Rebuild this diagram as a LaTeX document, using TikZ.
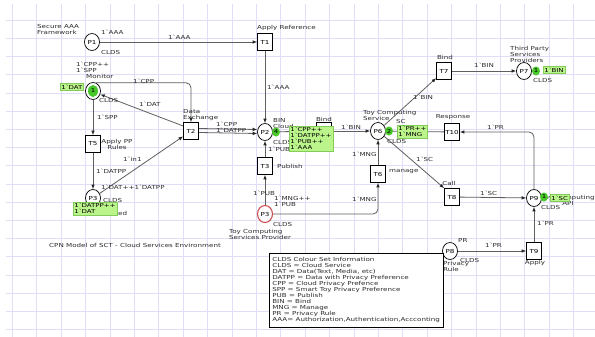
\documentclass[tikz,border=0pt]{standalone}
\usepackage{fontspec}
\newfontfamily\cpn{DejaVu Sans}[FakeStretch=1.3]
\usetikzlibrary{shapes.geometric,arrows.meta}
\definecolor{gridc}{RGB}{222,222,246}
\definecolor{linec}{RGB}{95,95,95}
\definecolor{txtc}{RGB}{45,45,45}
\definecolor{markf}{RGB}{188,244,140}
\definecolor{markb}{RGB}{130,205,90}
\definecolor{tokf}{RGB}{72,200,40}
\definecolor{redc}{RGB}{205,80,80}
\newcommand\bq{\textasciigrave}
\newcommand\lf{\cpn\fontsize{5.5}{6}\selectfont}
\newcommand\mf{\cpn\fontsize{5.4}{6}\selectfont}
\begin{document}
\begin{tikzpicture}[x=1pt,y=-1pt,
  place/.style={ellipse, draw=black, line width=0.7pt, fill=white, minimum width=15pt, minimum height=17pt, inner sep=0pt, font=\lf},
  trans/.style={rectangle, draw=black, line width=0.7pt, fill=white, minimum width=15pt, minimum height=17pt, inner sep=0pt, font=\lf},
  lbl/.style={inner sep=0pt, font=\lf, text=txtc, anchor=west, align=left},
  clbl/.style={inner sep=0pt, font=\lf, text=txtc, align=center},
  mkbox/.style={draw=markb, fill=markf, inner sep=1.2pt, font=\mf, align=left, text=black},
  token/.style={ellipse, fill=tokf, minimum width=8pt, minimum height=9pt, inner sep=0pt, font=\mf},
  arc/.style={draw=linec, line width=0.8pt, -{Latex[length=4.5pt,width=3.6pt,color=black!85]}}]
\useasboundingbox (0,0) rectangle (595,337);
\fill[white] (0,0) rectangle (595,337);
\foreach \i in {0,...,23} \draw[gridc, line width=0.5pt] ({12.2+24.4*\i},4) -- ({12.2+24.4*\i},337);
\foreach \j in {1,...,18} \draw[gridc, line width=0.5pt] (6,{1.8+18.2*\j}) -- (595,{1.8+18.2*\j});

% places
\node[place] (P1) at (92,42) {P1};
\node[place] (P4) at (93,91) {};
\node[place] (P3a) at (93,198) {P3};
\node[place] (P2) at (265,132) {P2};
\node[place, draw=redc, line width=1.1pt] (P3b) at (265,214) {P3};
\node[place] (P6) at (378,131) {P6};
\node[place] (P7) at (524,71) {P7};
\node[place] (P9) at (534,198) {P9};
\node[place] (P8) at (450,251) {P8};
% transitions
\node[trans] (T1) at (265,42) {T1};
\node[trans] (T2) at (191,131) {T2};
\node[trans] (T5) at (93,144) {T5};
\node[trans] (T3) at (265,166) {T3};
\node[trans] (T4) at (324,131) {T4};
\node[trans] (T6) at (378,174) {T6};
\node[trans] (T7) at (444,71) {T7};
\node[trans] (T10) at (452,132) {T10};
\node[trans] (T8) at (452,197) {T8};
\node[trans] (T9) at (534,251) {T9};

% arcs
\draw[arc] (P1) -- (T1);
\draw[arc] (T1) -- (P2);
\draw[arc, rounded corners=5pt] (P4.70) -| (T2.north);
\draw[arc] ([yshift=5pt]T2.west) -- (P4.-25);
\draw[arc] (P4) -- (T5);
\draw[arc] (T5) -- (P3a);
\draw[arc] (P3a) -- (T2);
\draw[arc] ([yshift=2.5pt]T2.east) -- ([yshift=2.5pt]P2.west);
\draw[arc] ([yshift=-1.5pt]T2.east) -- ([yshift=-1.5pt]P2.west);
\draw[arc] (T3) -- (P2);
\draw[arc] (P3b) -- (T3);
\draw[arc, rounded corners=5pt] (P3b.east) -| (T6.south);
\draw[arc] (T6) -- (P6);
\draw[arc] (P2) -- (T4);
\draw[arc] (T4) -- (P6);
\draw[arc] (P6) -- (T7);
\draw[arc] (T7) -- (P7);
\draw[arc] (T10) -- (P6);
\draw[arc, rounded corners=5pt] (P9.north) |- (T10.east);
\draw[arc] (P6) -- (T8.north west);
\draw[arc] (T8) -- (P9);
\draw[arc] (T9) -- (P9);
\draw[arc] (P8) -- (T9);

% labels
\node[lbl] at (37,29.5) {Secure AAA\\Framework};
\node[lbl] at (101,32) {1\bq AAA};
\node[lbl] at (101,52) {CLDS};
\node[lbl] at (168,37) {1\bq AAA};
\node[lbl] at (257,28) {Apply Reference};
\node[lbl] at (267,87) {1\bq AAA};
\node[lbl] at (76,67) {1\bq CPP++\\1\bq SPP};
\node[lbl] at (86,76) {Monitor};
\node[lbl] at (99,100) {CLDS};
\node[lbl] at (133,81) {1\bq CPP};
\node[lbl] at (139,104) {1\bq DAT};
\node[lbl] at (97,117) {1\bq SPP};
\node[clbl] at (117,144.5) {Apply PP\\Rules};
\node[lbl] at (123,159) {1\bq in1};
\node[lbl] at (96,171) {1\bq DATPP};
\node[lbl] at (101,187) {1\bq DAT++1\bq DATPP};
\node[lbl] at (103,200) {CLDS};
\node[lbl] at (118,213) {ed};
\node[lbl] at (183,115) {Data\\Exchange};
\node[lbl] at (216,124) {1\bq CPP};
\node[lbl] at (216,130) {1\bq DATPP};
\node[lbl] at (273,120) {BIN};
\node[lbl] at (273,126) {Cloud};
\node[lbl] at (273,142) {CLDS};
\node[lbl] at (268,149) {1\bq PUB};
\node[clbl] at (324,119) {Bind};
\node[lbl] at (277,166) {Publish};
\node[lbl] at (253,193) {1\bq PUB};
\node[lbl] at (274,201) {1\bq MNG++\\1\bq PUB};
\node[lbl] at (273,224) {CLDS};
\node[lbl] at (229,234.5) {Toy Computing\\Services Provider};
\node[lbl] at (341,127) {1\bq BIN};
\node[lbl] at (352,154) {1\bq MNG};
\node[lbl] at (352,199) {1\bq MNG};
\node[lbl] at (389,172) {manage};
\node[lbl] at (363,115) {Toy Computing\\Service};
\node[lbl] at (396,121) {SC};
\node[lbl] at (387,141) {CLDS};
\node[lbl] at (413,97) {1\bq BIN};
\node[clbl] at (445,57) {Bind};
\node[lbl] at (474,65) {1\bq BIN};
\node[lbl] at (510,54) {Third Party\\Services\\Providers};
\node[lbl] at (533,80) {CLDS};
\node[clbl] at (453,117) {Response};
\node[lbl] at (487,127) {1\bq PR};
\node[lbl] at (416,159) {1\bq SC};
\node[clbl] at (449,183) {Call};
\node[lbl] at (480,193) {1\bq SC};
\node[clbl] at (568,200.5) {Toy Computing\\API};
\node[lbl] at (541,207) {CLDS};
\node[lbl] at (537,223) {1\bq PR};
\node[clbl] at (535,263) {Apply};
\node[lbl] at (458,240) {PR};
\node[lbl] at (485,245) {1\bq PR};
\node[lbl] at (460,260) {CLDS};
\node[lbl] at (443,266) {Privacy\\Rule};
\node[lbl] at (49,245) {CPN Model of SCT - Cloud Services Environment};

% markings and tokens
\node[mkbox, anchor=west] (m4) at (60,87) {1\bq DAT};
\node[token, minimum width=10pt, minimum height=12pt] (k4) at (93,91) {1};
\node[mkbox, anchor=north west] (m3) at (73,202) {1\bq DATPP++\\1\bq DAT};
\node[mkbox, anchor=north west] (m2) at (289,126) {1\bq CPP++\\1\bq DATPP++\\1\bq PUB++\\1\bq AAA};
\node[token] (k2) at (276,132) {4};
\node[mkbox, anchor=north west] (m6) at (397,125) {1\bq PR++\\1\bq MNG};
\node[token] (k6) at (389,131) {2};
\node[mkbox, anchor=west] (m7) at (543,70) {1\bq BIN};
\node[token] (k7) at (536,71) {1};
\node[mkbox, anchor=west] (m9) at (550,198) {1\bq SC};
\node[token] (k9) at (544,197) {1};

% legend
\node[draw=black, line width=0.6pt, fill=white, anchor=north west, align=left, font=\lf, text=txtc, inner xsep=3pt, inner ysep=3pt, minimum width=170pt, minimum height=74pt] (legend) at (269,253) {CLDS Colour Set Information\\
CLDS = Cloud Service\\
DAT = Data(Text, Media, etc)\\
DATPP = Data with Privacy Preference\\
CPP = Cloud Privacy Prefence\\
SPP = Smart Toy Privacy Preference\\
PUB = Publish\\
BIN = Bind\\
MNG = Manage\\
PR = Privacy Rule\\
AAA= Authorization,Authentication,Accconting};
\end{tikzpicture}
\end{document}
